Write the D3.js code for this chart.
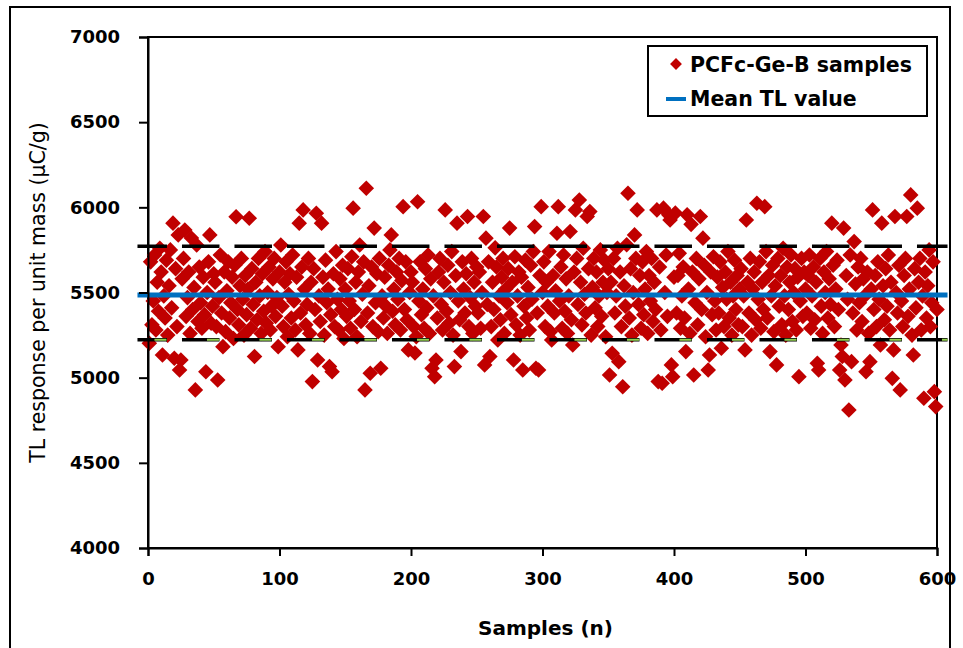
<!DOCTYPE html>
<html>
<head>
<meta charset="utf-8">
<script src="https://cdn.jsdelivr.net/npm/d3@7"></script>
<style>
  body { margin: 0; background: #fff; }
  svg text { font-family: "DejaVu Sans", sans-serif; fill: #000; }
</style>
</head>
<body>
<svg id="chart" width="963" height="648"></svg>
<script>
// TL response per unit mass (uC/g), samples n = 1..600
const tl = [
  5202,5680,5310,5450,5720,5280,5560,5390,5760,5620,5133,5480,5350,5690,5250,5540,5750,5410,5907,5114,5640,5300,5838,5045,5104,5580,5700,5867,5360,5470,5620,5260,5820,5400,5530,4928,5779,5330,5650,5440,5290,5590,5370,5035,5500,5680,5838,5320,5420,5610,
  5560,5300,4986,5470,5720,5380,5182,5620,5270,5510,5680,5350,5440,5590,5230,5660,5945,5400,5310,5540,5700,5460,5250,5600,5370,5520,5936,5290,5640,5430,5124,5560,5340,5700,5480,5260,5610,5390,5740,5320,5500,5650,5280,5420,5580,5700,5360,5470,5182,5620,
  5779,5420,5300,5560,5680,5240,5490,5610,5350,5720,5450,5280,5590,5163,5907,5380,5650,5985,5520,5310,5430,5700,5260,5560,4977,5640,5400,5965,5104,5480,5330,5907,5590,5250,5690,5440,5520,5065,5370,5035,5610,5300,5740,5460,5280,5580,5400,5660,5230,5520,
  5360,5640,5450,5290,5710,5995,5400,5560,5240,5620,5779,5330,5490,5680,4928,6112,5380,5540,5026,5650,5300,5878,5440,5610,5270,5700,5055,5480,5350,5590,5420,5260,5660,5750,5838,5390,5520,5310,5620,5460,5700,5280,5570,6004,5400,5680,5340,5163,5500,5620,
  5560,5300,5145,5241,6033,5450,5680,5370,5520,5290,5640,5410,5720,5260,5580,5055,5480,5006,5104,5350,5620,5700,5430,5280,5560,5985,5390,5660,5320,5500,5740,5250,5065,5600,5907,5450,5340,5153,5680,5520,5380,5610,5946,5300,5470,5700,5260,5560,5420,5650,
  5380,5620,5290,5500,5946,5075,5819,5430,5680,5124,5300,5560,5400,5762,5650,5221,5480,5340,5590,5700,5260,5520,5440,5640,5878,5370,5560,5104,5710,5310,5480,5620,5250,5590,5045,5420,5690,5350,5530,5280,5660,5460,5740,5887,5055,5380,5045,5600,6004,5500,
  5680,5300,5560,5420,5740,5270,5221,5600,5380,5510,5848,6004,5450,5650,5290,5720,5390,5580,5260,5480,5858,5340,5192,5620,5985,5700,5430,6043,5560,5310,5760,5490,5380,5946,5640,5975,5250,5530,5700,5410,5620,5300,5480,5750,5360,5560,5690,5240,5500,5640,
  5016,5560,5143,5700,5380,5480,5760,5094,5620,5300,4947,5540,5420,5780,6083,5350,5640,5250,5500,5838,5700,5985,5430,5600,5290,5680,5370,5520,5740,5260,5600,5450,5700,5330,5560,5400,5985,4977,5650,5280,4967,5995,5500,5720,5360,5956,5926,5075,5006,5590,
  5966,5380,5600,5730,5290,5480,5650,5350,5153,5956,5520,5260,5900,5620,5016,5440,5700,5310,5580,5946,5400,5819,5660,5240,5500,5045,5133,5620,5370,5710,5450,5280,5590,5380,5680,5173,5530,5300,5620,5460,5740,5350,5560,5250,5480,5690,5400,5600,5310,5520,
  5640,5300,5480,5163,5926,5560,5380,5700,5250,5520,5620,5340,6024,5460,5680,5290,5560,5400,6004,5740,5350,5600,5153,5480,5660,5270,5540,5075,5700,5420,5600,5310,5760,5480,5250,5650,5400,5560,5720,5330,5500,5640,5280,5590,5006,5450,5700,5360,5620,5520,
  5380,5600,5720,5290,5480,5650,5340,5560,5084,5045,5700,5420,5260,5620,5500,5740,5350,5580,5430,5907,5660,5300,5520,5690,5400,5045,5192,5124,5878,4986,5600,5460,4810,5720,5094,5380,5799,5550,5280,5650,5440,5700,5330,5580,5480,5035,5620,5260,5094,5520,
  5985,5400,5600,5300,5680,5460,5192,5907,5540,5340,5640,5420,5720,5280,5560,4996,5163,5946,5500,5380,5660,4928,5450,5300,5600,5700,5946,5360,5520,6073,5250,5133,5640,5410,5995,5560,5700,5280,5480,4879,5620,5350,5540,5750,5300,5440,5680,4918,4830,5400
];
const samples = tl.map((v, i) => ({ n: i + 1, v: v }));

const meanTL = 5485;
const upperTL = 5772;
const lowerTL = 5222;
const lineSpan = [-8, 608];

const xTicks = [0, 100, 200, 300, 400, 500, 600];
const yTicks = [4000, 4500, 5000, 5500, 6000, 6500, 7000];

const legendLabels = ["PCFc-Ge-B samples", "Mean TL value"];
const xTitle = "Samples (n)";
const yTitle = "TL response per unit mass (\u00b5C/g)";

const svg = d3.select("#chart");

const plot = {left: 148, right: 937, top: 37, bottom: 548};

const x = d3.scaleLinear().domain([0, 600]).range([plot.left, plot.right]);
const y = d3.scaleLinear().domain([4000, 7000]).range([plot.bottom, plot.top]);

// outer frame of the figure
svg.append("rect")
    .attr("x", 10).attr("y", 7)
    .attr("width", 940).attr("height", 660)
    .attr("fill", "none").attr("stroke", "#000").attr("stroke-width", 2);

// plot box
svg.append("rect")
    .attr("x", plot.left).attr("y", plot.top)
    .attr("width", plot.right - plot.left).attr("height", plot.bottom - plot.top)
    .attr("fill", "none").attr("stroke", "#000").attr("stroke-width", 2);

// points
svg.append("g")
    .selectAll("path")
    .data(samples)
    .enter()
    .append("path")
    .attr("d", d3.symbol(d3.symbolSquare, 122))
    .attr("transform", d => `translate(${x(d.n)},${y(d.v)}) rotate(45)`)
    .attr("fill", "#C00000");

// mean and spread lines
const hline = (val, color, width, dash, offset) => {
    svg.append("line")
        .attr("x1", x(lineSpan[0])).attr("x2", x(lineSpan[1]))
        .attr("y1", y(val)).attr("y2", y(val))
        .attr("stroke", color)
        .attr("stroke-width", width)
        .attr("stroke-dasharray", dash)
        .attr("stroke-dashoffset", offset);
};
hline(upperTL, "#000", 3.5, "37.5,15", 8);
hline(lowerTL, "#000", 3.5, "37.5,15", 8);
hline(lowerTL, "#92D050", 2, "12,40.5", -17);
hline(meanTL, "#0070C0", 5, null, 0);

// axes
const yAxis = svg.append("g")
    .attr("transform", `translate(${plot.left},0)`)
    .call(d3.axisLeft(y).tickValues(yTicks).tickSize(9).tickPadding(19).tickFormat(d3.format("d")));
const xAxis = svg.append("g")
    .attr("transform", `translate(0,${plot.bottom})`)
    .call(d3.axisBottom(x).tickValues(xTicks).tickSize(8).tickPadding(16).tickFormat(d3.format("d")));

[xAxis, yAxis].forEach(g => {
    g.select(".domain").attr("stroke", "#000").attr("stroke-width", 2);
    g.selectAll(".tick line").attr("stroke", "#000").attr("stroke-width", 2);
    g.selectAll(".tick text")
        .attr("font-family", "DejaVu Sans, sans-serif")
        .attr("font-size", 18)
        .attr("font-weight", "bold")
        .attr("fill", "#000");
});

// axis titles
svg.append("text")
    .attr("x", (plot.left + plot.right) / 2 + 3)
    .attr("y", 635)
    .attr("text-anchor", "middle")
    .attr("font-size", 20)
    .attr("font-weight", "bold")
    .text(xTitle);

svg.append("text")
    .attr("transform", `translate(45,${(plot.top + plot.bottom) / 2}) rotate(-90)`)
    .attr("text-anchor", "middle")
    .attr("font-size", 20.5)
    .text(yTitle);

// legend
const legend = svg.append("g");
legend.append("rect")
    .attr("x", 648).attr("y", 46)
    .attr("width", 279).attr("height", 70)
    .attr("fill", "#fff").attr("stroke", "#000").attr("stroke-width", 2);
legend.append("path")
    .attr("d", d3.symbol(d3.symbolSquare, 70))
    .attr("transform", "translate(676,64) rotate(45)")
    .attr("fill", "#C00000");
legend.append("line")
    .attr("x1", 666).attr("x2", 686)
    .attr("y1", 99).attr("y2", 99)
    .attr("stroke", "#0070C0").attr("stroke-width", 4);
legend.selectAll("text.lab")
    .data(legendLabels)
    .enter()
    .append("text")
    .attr("class", "lab")
    .attr("x", 690)
    .attr("y", (d, i) => 72 + i * 34)
    .attr("font-size", 20.5)
    .attr("font-weight", "bold")
    .text(d => d);
</script>
</body>
</html>
